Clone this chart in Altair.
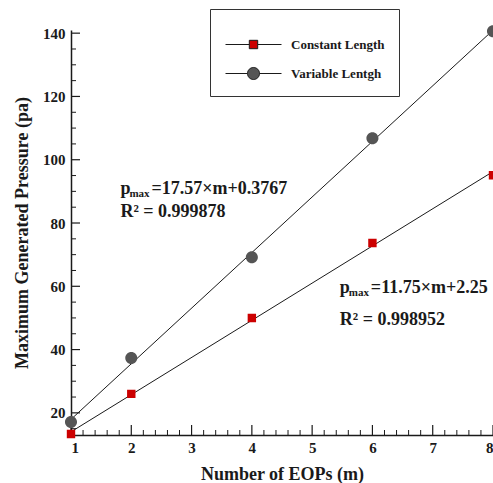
import altair as alt
import pandas as pd

# ---- data ----
m_vals = [1, 2, 4, 6, 8]
constant_len = [13.3, 26.0, 50.0, 73.7, 95.1]
variable_len = [17.1, 37.3, 69.2, 106.8, 140.6]
series_names = ["Constant Length", "Variable Lentgh"]

# fitted lines shown on the chart (slope, intercept)
fit_slopes = [11.75, 17.57]
fit_intercepts = [2.25, 0.3767]
fit_range = [1, 8]

x_major = [1, 2, 3, 4, 5, 6, 7, 8]
x_minor = [round(1 + 0.2 * i, 2) for i in range(36) if i % 5 != 0]
y_major = [20, 40, 60, 80, 100, 120, 140]
y_minor = [15, 25, 30, 35, 45, 50, 55, 65, 70, 75, 85, 90, 95, 105, 110, 115, 125, 130, 135]

eq_texts = ["=17.57×m+0.3767", "=11.75×m+2.25"]
r2_texts = ["R² = 0.999878", "R² = 0.998952"]
# annotation anchors (m, pressure) for the equation line and the R² line
eq_anchor_m = [1.82, 5.46]
eq_anchor_v = [89.2, 57.9]
r2_anchor_v = [81.9, 47.8]

W, H = 422, 405
FONT = "Liberation Serif"
RED = "#cc0000"
GRAY = "#555555"
INK = "#1a1a1a"

pts = pd.DataFrame({
    "m": m_vals * 2,
    "p": constant_len + variable_len,
    "series": [series_names[0]] * len(m_vals) + [series_names[1]] * len(m_vals),
})

fit_rows = []
for name, a, b in zip(series_names, fit_slopes, fit_intercepts):
    for mm in fit_range:
        fit_rows.append({"m": mm, "p": a * mm + b, "series": name})
fits = pd.DataFrame(fit_rows)

ann = pd.DataFrame({
    "m": eq_anchor_m,
    "v": eq_anchor_v,
    "v2": r2_anchor_v,
    "eq": eq_texts,
    "r2": r2_texts,
    "p": ["p", "p"],
    "sub": ["max", "max"],
})

xs = alt.Scale(domain=[1, 8], nice=False, zero=False)
ys = alt.Scale(domain=[13, 141], nice=False, zero=False)

SQ = "M-4,0L-0.6,0M0.6,0L4,0M-0.6,-0.6L0.6,-0.6L0.6,0.6L-0.6,0.6Z"
CI = ("M-4,0L-0.86,0M0.86,0L4,0M-0.86,0A0.86,0.86,0,1,1,0.86,0"
      "A0.86,0.86,0,1,1,-0.86,0Z")

legend = alt.Legend(
    title=" ", titleFontSize=8, titlePadding=6,
    orient="none", legendX=139, legendY=-21,
    strokeColor="#333333", padding=14, fillColor="white",
    labelFont=FONT, labelFontWeight="bold", labelFontSize=13, labelColor=INK,
    labelOffset=30, rowPadding=13, symbolSize=196, symbolOffset=22,
    symbolStrokeColor=INK, symbolStrokeWidth=1,
)

x_enc = alt.X("m:Q", scale=xs, axis=alt.Axis(
    title="Number of EOPs (m)", values=x_major, ticks=False, grid=False,
    labelPadding=5, titlePadding=10, format="d"))
y_enc = alt.Y("p:Q", scale=ys, axis=alt.Axis(
    title="Maximum Generated Pressure (pa)", values=y_major, ticks=False,
    grid=False, labelPadding=6, titlePadding=11, format="d"))

lines = alt.Chart(fits).mark_line(color=INK, strokeWidth=1).encode(
    x=x_enc, y=y_enc, detail="series:N")

points = alt.Chart(pts).mark_point(
    filled=True, size=196, opacity=1).encode(
    x="m:Q", y="p:Q",
    color=alt.Color("series:N", scale=alt.Scale(domain=series_names, range=[RED, GRAY]), legend=legend),
    shape=alt.Shape("series:N", scale=alt.Scale(domain=series_names, range=[SQ, CI]), legend=legend),
)

xmaj = alt.Chart(pd.DataFrame({"m": x_major})).mark_rule(color=INK, strokeWidth=1.2).encode(
    x="m:Q", y=alt.value(H), y2=alt.value(H - 10))
xmin = alt.Chart(pd.DataFrame({"m": x_minor})).mark_rule(color=INK, strokeWidth=1).encode(
    x="m:Q", y=alt.value(H), y2=alt.value(H - 5))
ymaj = alt.Chart(pd.DataFrame({"p": y_major})).mark_rule(color=INK, strokeWidth=1.2).encode(
    y="p:Q", x=alt.value(0), x2=alt.value(9))
ymin = alt.Chart(pd.DataFrame({"p": y_minor})).mark_rule(color=INK, strokeWidth=1).encode(
    y="p:Q", x=alt.value(0), x2=alt.value(5))

base_txt = alt.Chart(ann)
t_p = base_txt.mark_text(align="left", baseline="alphabetic", font=FONT, fontWeight="bold",
                         fontSize=18, color=INK).encode(x="m:Q", y=alt.Y("v:Q"), text="p:N")
t_sub = base_txt.mark_text(align="left", baseline="alphabetic", font=FONT, fontWeight="bold",
                           fontSize=11, color=INK, dx=9, dy=3).encode(x="m:Q", y="v:Q", text="sub:N")
t_eq = base_txt.mark_text(align="left", baseline="alphabetic", font=FONT, fontWeight="bold",
                          fontSize=18, color=INK, dx=31).encode(x="m:Q", y="v:Q", text="eq:N")
t_r2 = base_txt.mark_text(align="left", baseline="alphabetic", font=FONT, fontWeight="bold",
                          fontSize=18, color=INK).encode(x="m:Q", y="v2:Q", text="r2:N")

chart = alt.layer(lines, xmaj, xmin, ymaj, ymin, points, t_p, t_sub, t_eq, t_r2).properties(
    width=W, height=H,
    autosize=alt.AutoSizeParams(type="none"),
    padding={"left": 71, "top": 30, "right": 0, "bottom": 48},
    background="white",
).configure_view(stroke=None).configure_axis(
    domainColor=INK, domainWidth=1.5,
    labelFont=FONT, labelFontWeight="bold", labelFontSize=15, labelColor=INK,
    titleFont=FONT, titleFontWeight="bold", titleFontSize=18, titleColor=INK,
)

chart.save("out.html", embed_options={"renderer": "svg", "actions": False})
